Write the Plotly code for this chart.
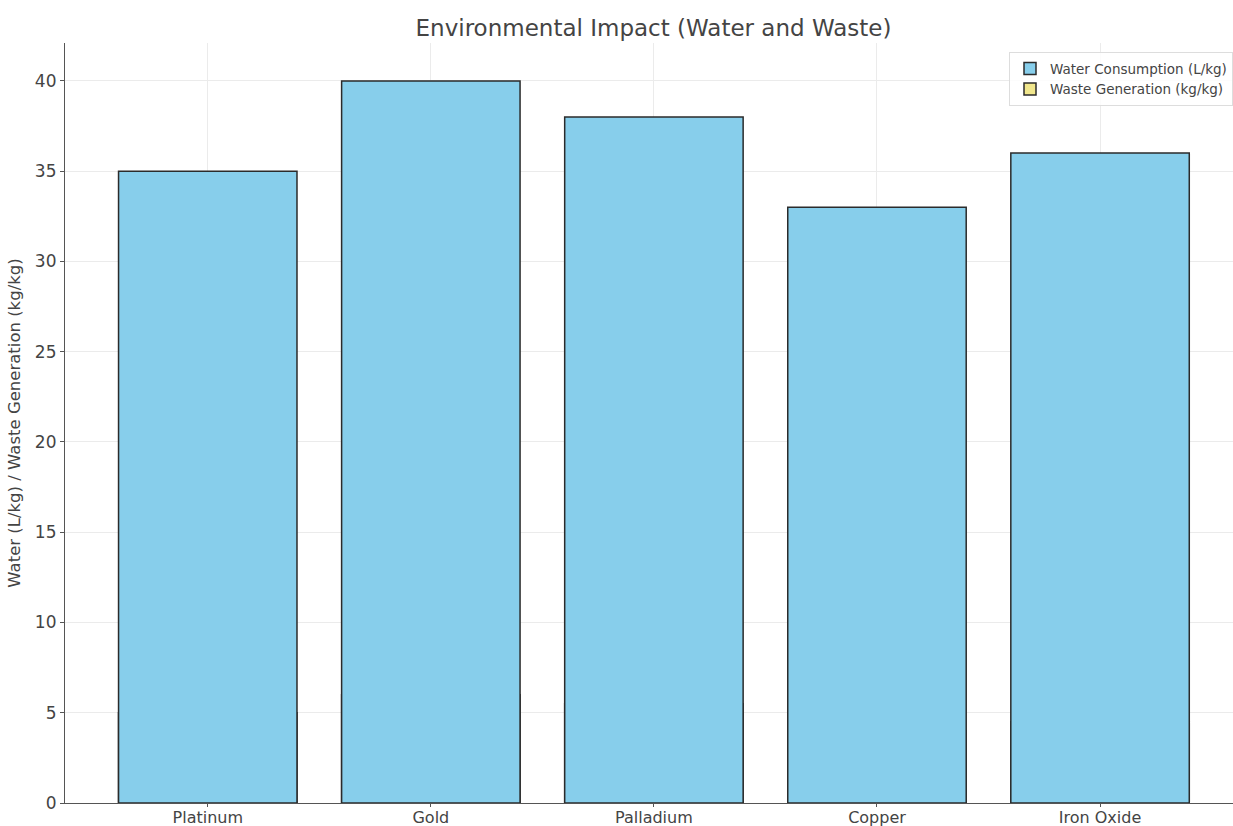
import plotly.graph_objects as go

materials = ["Platinum", "Gold", "Palladium", "Copper", "Iron Oxide"]
water_l_per_kg = [35, 40, 38, 33, 36]
waste_kg_per_kg = [5, 6, 5.5, 4, 4.5]
y_ticks = [0, 5, 10, 15, 20, 25, 30, 35, 40]

x_pos = list(range(len(materials)))

fig = go.Figure()
# Waste bars sit underneath the water bars at the same positions
fig.add_trace(go.Bar(
    x=x_pos, y=waste_kg_per_kg, name="Waste Generation (kg/kg)",
    width=0.8, marker=dict(color="#F0E68C", line=dict(color="#2b2b2b", width=1.5)),
))
fig.add_trace(go.Bar(
    x=x_pos, y=water_l_per_kg, name="Water Consumption (L/kg)",
    width=0.8, marker=dict(color="#87CEEB", line=dict(color="#2b2b2b", width=1.5)),
))

font_family = "DejaVu Sans"
fig.update_layout(
    width=1233, height=826,
    barmode="overlay",
    paper_bgcolor="white", plot_bgcolor="white",
    margin=dict(l=65, r=0, t=43, b=23, autoexpand=False),
    font=dict(family=font_family, color="#444444", size=16),
    title=dict(text="Environmental Impact (Water and Waste)", x=0.53, xanchor="center",
               y=0.966, yanchor="middle", font=dict(size=23, color="#444444")),
    showlegend=True,
    legend=dict(x=1.0, xanchor="right", y=0.988, yanchor="top", traceorder="reversed",
                bgcolor="rgba(255,255,255,0.85)", bordercolor="#dddddd", borderwidth=1,
                font=dict(size=13.5, color="#444444"), itemwidth=30, tracegroupgap=0),
    xaxis=dict(
        range=[-0.64, 4.596], tickvals=x_pos, ticktext=materials,
        showgrid=True, gridcolor="#ebebeb", gridwidth=1,
        showline=True, linecolor="#555555", linewidth=1.2,
        ticks="outside", ticklen=3, tickcolor="#555555",
        tickfont=dict(size=16), zeroline=False, automargin=False,
        ticklabelstandoff=-3,
    ),
    yaxis=dict(
        range=[0, 42.1], tickvals=y_ticks,
        showgrid=True, gridcolor="#ebebeb", gridwidth=1,
        showline=True, linecolor="#555555", linewidth=1.2,
        ticks="outside", ticklen=4, tickcolor="#555555",
        tickfont=dict(size=17), zeroline=False, automargin=False,
        title=dict(text="Water (L/kg) / Waste Generation (kg/kg)", font=dict(size=16.5), standoff=10),
    ),
)

fig.write_html("out.html")
